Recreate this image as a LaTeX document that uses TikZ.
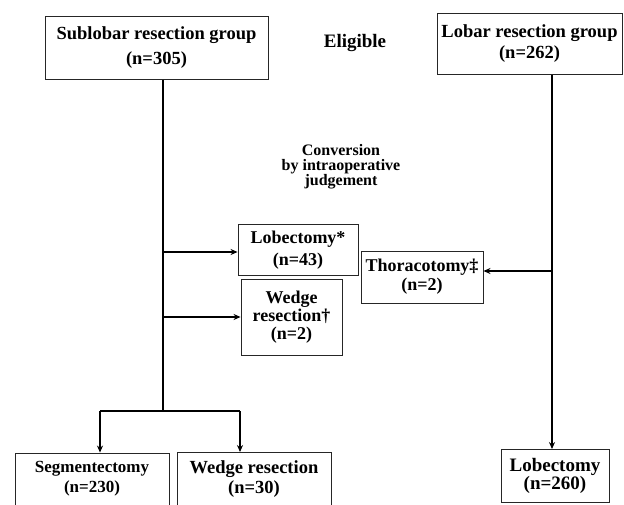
\documentclass[tikz,border=0pt]{standalone}
\usepackage{fontspec}
\setmainfont{Liberation Serif}
\usetikzlibrary{arrows.meta}
\begin{document}
\begin{tikzpicture}[x=1pt,y=-1pt,
  box/.style={draw=black!85,line width=0.9pt,rectangle,align=center,inner sep=2pt},
  fnt/.style 2 args={font=\fontsize{#1}{#2}\selectfont\bfseries},
  lbl/.style={align=center},
  conn/.style={line width=1.4pt,black},
  arr/.style={conn,-{Stealth[length=7pt,width=6pt]}}]
\useasboundingbox (0,0) rectangle (624,505);
% top boxes
\node[box,fnt={18.5}{25},minimum width=223pt,minimum height=63pt] (sub) at (156.5,48) {Sublobar resection group\\(n=305)};
\node[lbl,fnt={19}{20}] (elig) at (355,43) {Eligible};
\node[box,fnt={18.5}{21},minimum width=185pt,minimum height=61pt] (lob) at (529.5,44) {Lobar resection group\\(n=262)};
\node[lbl,fnt={16}{15}] (conv) at (341,167) {Conversion\\by intraoperative\\judgement};
% conversion boxes
\node[box,fnt={18}{22},minimum width=120pt,minimum height=51pt] (lobc) at (298,250) {Lobectomy*\\(n=43)};
\node[box,fnt={18}{18},minimum width=101pt,minimum height=76pt] (wedc) at (291.5,317) {Wedge\\resection\textdagger\\(n=2)};
\node[box,fnt={18}{19},minimum width=122pt,minimum height=52pt] (thor) at (422,277) {Thoracotomy\textdaggerdbl\\(n=2)};
% bottom boxes
\node[box,fnt={17}{20},minimum width=154pt,minimum height=52pt] (seg) at (92,479) {Segmentectomy\\(n=230)};
\node[box,fnt={18.5}{20},minimum width=154pt,minimum height=53pt] (wed) at (254,479) {Wedge resection\\(n=30)};
\node[box,fnt={19}{17},minimum width=108pt,minimum height=53pt] (lobe) at (555,476) {Lobectomy\\(n=260)};
% connectors
\coordinate (j) at (163,411);
\coordinate (ja) at (163,252);
\coordinate (jb) at (163,317);
\coordinate (jl) at (100,411);
\coordinate (jr) at (240,411);
\coordinate (l) at (552,271);
\draw[conn] (sub.south -| j) -- (j);
\draw[arr] (ja) -- (ja -| lobc.west);
\draw[arr] (jb) -- (wedc.west);
\draw[conn] (jl) -- (jr);
\draw[arr] (jl) -- (jl |- seg.north);
\draw[arr] (jr) -- (jr |- wed.north);
\draw[conn] (lob.south -| l) -- (l);
\draw[arr] (l) -- (lobe.north -| l);
\draw[arr] (l) -- (thor.east |- l);
\end{tikzpicture}
\end{document}
